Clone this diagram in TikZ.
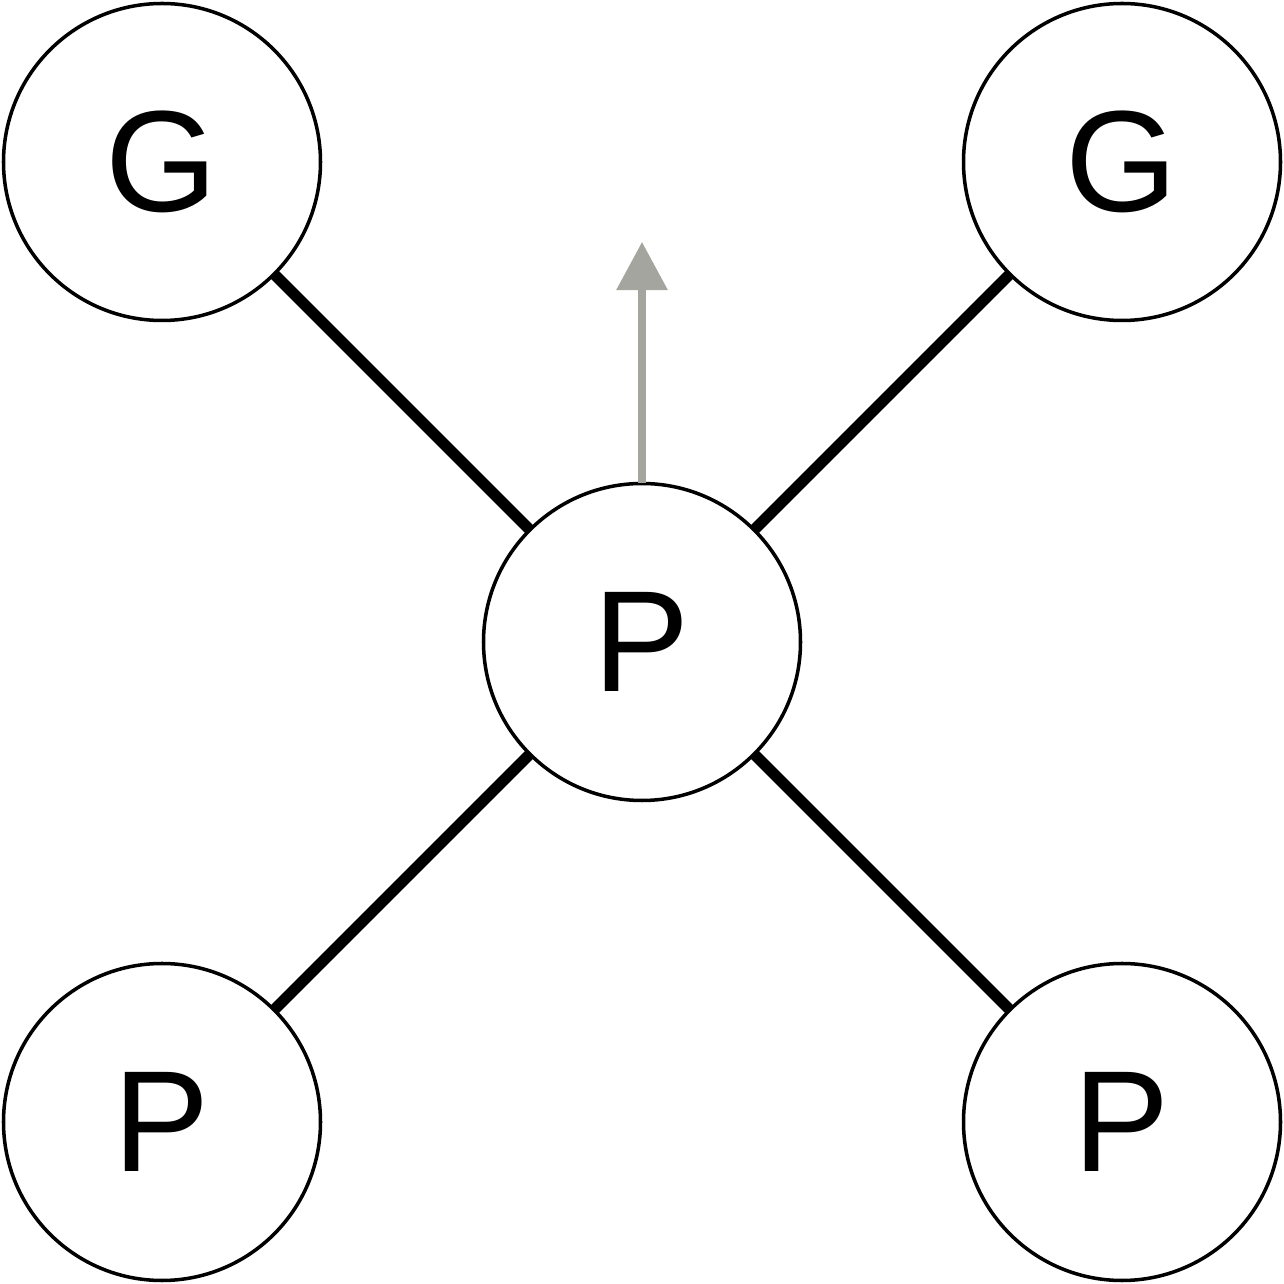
\documentclass[tikz,border=0pt]{standalone}
\usepackage{fontspec}
\setmainfont{Liberation Sans}
\usepackage{xcolor}
\definecolor{ink}{HTML}{000000}
\definecolor{pointer}{HTML}{A5A5A0}
\usetikzlibrary{arrows.meta,positioning}

\begin{document}
\begin{tikzpicture}[
		>=Stealth,
		site/.style={circle, draw=ink, line width=1pt, minimum size=3.17cm, inner sep=0pt, outer sep=0pt, font=\fontsize{41}{41}\selectfont},
		bond/.style={ink, line width=3.2pt}
	]
		\def\L{12.84}
		\def\c{6.42}
		\def\d{4.8}
		\useasboundingbox (0,0) rectangle (\L,\L);

		% Central particle and its neighbours
		\node[site] (P0) at (\c,\c) {P};
		\node[site] (G1) at (\c-\d,\c+\d) {G};
		\node[site] (G2) at (\c+\d,\c+\d) {G};
		\node[site] (P1) at (\c-\d,\c-\d) {P};
		\node[site] (P2) at (\c+\d,\c-\d) {P};

		% Bonds
		\draw[bond] (P0) -- (G1);
		\draw[bond] (P0) -- (G2);
		\draw[bond] (P0) -- (P1);
		\draw[bond] (P0) -- (P2);

		% Direction of motion
		\coordinate (Tip) at (\c,10.42);
		\draw[-{Triangle[length=13.7pt,width=14.2pt]}, pointer, line width=2pt] (P0.north) -- (Tip);
	\end{tikzpicture}
\end{document}
